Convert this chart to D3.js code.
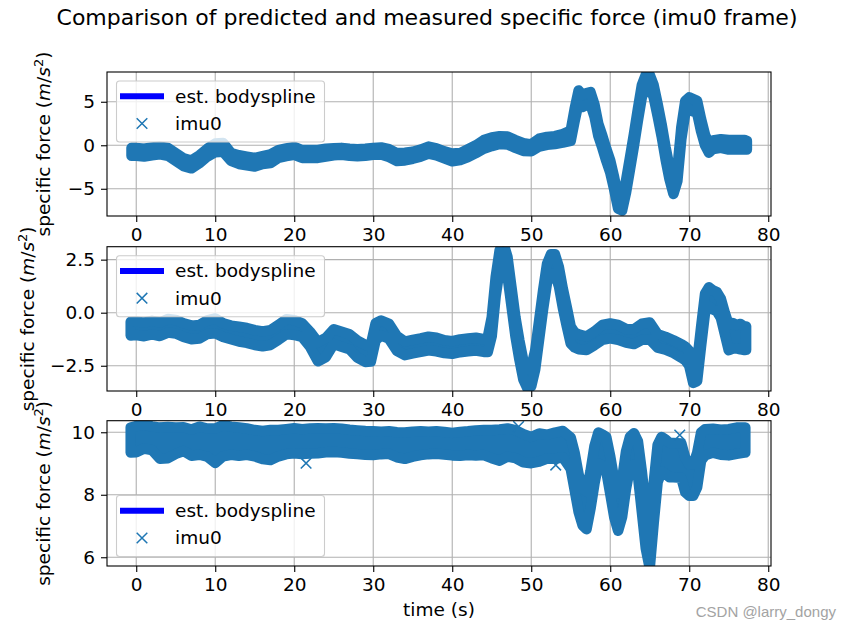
<!DOCTYPE html>
<html><head><meta charset="utf-8">
<script src="https://cdn.jsdelivr.net/npm/d3@7"></script>
<style>body{margin:0;background:#fff} svg text{font-family:"DejaVu Sans",sans-serif}</style>
</head><body><svg id="c" width="853" height="630"></svg>
<script>
// ---- data ----
const timeTicks = [0,10,20,30,40,50,60,70,80];
const ticksX = [-5,0,5];
const ticksY = [-2.5,0,2.5];
const ticksZ = [6,8,10];
const seriesNames = ["est. bodyspline","imu0"];
// rows: [time (s), spline value, half-spread of imu0 samples]
const forceX = [[-0.6,-0.75,.45],[0,-0.75,.45],[1,-0.85,.45],[2,-0.7,.45],[3,-0.6,.45],[4,-0.75,.45],[5,-1.35,.45],[6,-1.95,.45],[7,-2.2,.45],[8,-1.6,.45],[9,-0.85,.45],[10,-0.3,.5],[11,-0.25,.5],[12,-1.35,.45],[13,-1.65,.5],[14,-1.8,.5],[15,-1.95,.5],[16,-1.7,.45],[17,-1.55,.5],[18,-1.0,.45],[19,-0.8,.45],[20,-0.65,.45],[21,-1.0,.45],[22,-1.0,.45],[23,-1.0,.45],[24,-0.85,.45],[25,-0.75,.4],[26,-0.7,.4],[27,-0.8,.4],[28,-0.85,.4],[29,-0.8,.4],[30,-0.7,.4],[31,-0.65,.4],[32,-0.9,.45],[33,-1.35,.45],[34,-1.3,.45],[35,-1.15,.4],[36,-0.9,.4],[37,-0.55,.4],[38,-0.75,.4],[39,-1.1,.4],[40,-1.4,.45],[41,-1.3,.4],[42,-0.9,.45],[43,-0.45,.45],[44,0.1,.5],[45,0.4,.5],[46,0.6,.45],[47,0.55,.45],[48,0.15,.45],[49,-0.2,.45],[50,-0.3,.4],[51,0.3,.45],[52,0.5,.45],[53,0.6,.45],[54,0.8,.5],[55,1.1,.6],[55.5,3.5,.7],[56,5.6,.7],[56.5,5.1,.7],[57,5.3,.7],[57.5,5.4,.7],[58,4.0,.7],[58.5,1.75,.7],[59,0.4,.7],[59.5,-1.1,.7],[60,-2.45,.7],[60.5,-4.4,.7],[61,-6.6,.7],[61.5,-6.8,.7],[62,-4.75,.7],[62.5,-2.1,.7],[63,0.6,.7],[63.5,3.5,.7],[64,6.2,.7],[64.5,7.4,.7],[65,7.4,.7],[65.5,6.2,.7],[66,4.05,.7],[66.5,1.75,.7],[67,-0.9,.7],[67.5,-3.2,.7],[68,-4.9,.7],[68.5,-3.4,.7],[69,1.4,.7],[69.5,4.4,.7],[70,4.8,.7],[70.5,4.6,.7],[71,4.4,.7],[71.5,2.3,.7],[72,0.6,.6],[72.5,-0.35,.5],[73,0.05,.5],[74,0.2,.5],[75,0.05,.55],[76,0.05,.55],[77,0.05,.55],[77.3,0.0,.5]];
const forceY = [[-0.7,-0.75,.32],[0,-0.73,.32],[1,-0.79,.32],[2,-0.7,.32],[3,-0.78,.32],[4,-0.62,.32],[5,-0.66,.32],[6,-0.82,.32],[7,-0.93,.32],[8,-0.9,.32],[9,-0.68,.32],[10,-0.62,.35],[11,-0.82,.32],[12,-0.93,.32],[13,-1.01,.35],[14,-1.07,.35],[15,-1.17,.35],[16,-1.23,.35],[17,-1.17,.35],[18,-0.93,.35],[19,-0.66,.35],[20,-0.7,.35],[21,-0.82,.32],[22,-1.25,.35],[23,-1.84,.45],[24,-1.64,.45],[25,-1.13,.35],[26,-1.25,.35],[27,-1.37,.35],[28,-1.72,.4],[29,-1.92,.4],[29.7,-1.9,.4],[30.3,-0.9,.4],[31,-0.72,.35],[32,-0.88,.35],[33,-1.45,.35],[34,-1.68,.32],[35,-1.6,.32],[36,-1.53,.32],[37,-1.45,.32],[38,-1.5,.32],[39,-1.6,.3],[40,-1.64,.3],[41,-1.56,.3],[42,-1.52,.3],[43,-1.48,.3],[44,-1.55,.3],[44.5,-1.5,.35],[45,-0.66,.45],[45.5,1.23,.45],[46,2.49,.45],[46.5,2.8,.45],[47,2.17,.45],[47.5,0.75,.45],[48,-0.66,.45],[48.5,-1.76,.45],[49,-2.7,.45],[49.5,-3.1,.45],[50,-3.02,.45],[50.5,-2.23,.45],[51,-0.82,.45],[51.5,0.6,.45],[52,1.86,.45],[52.5,2.3,.45],[53,2.3,.45],[53.5,1.7,.45],[54,0.68,.45],[54.5,-0.19,.45],[55,-1.05,.4],[55.5,-1.29,.35],[56,-1.37,.35],[57,-1.44,.32],[58,-1.21,.32],[59,-0.93,.35],[60,-0.86,.35],[61,-0.93,.35],[62,-1.09,.32],[63,-1.13,.35],[64,-0.9,.38],[65,-0.86,.4],[66,-1.33,.32],[67,-1.44,.3],[68,-1.6,.3],[69,-1.8,.32],[69.5,-1.92,.32],[70,-2.15,.35],[70.5,-2.86,.45],[71,-2.78,.45],[71.5,-1.13,.45],[72,0.44,.45],[72.5,0.75,.45],[73,0.6,.45],[73.5,0.52,.45],[74,0.21,.45],[74.5,-0.5,.5],[75,-1.17,.6],[75.5,-1.09,.6],[76,-1.13,.55],[76.5,-1.13,.6],[77,-1.21,.55],[77.2,-1.2,.55]];
const forceZ = [[-0.7,9.75,.4],[0,9.78,.42],[1,9.86,.38],[2,9.81,.38],[3,9.65,.5],[4,9.67,.5],[5,9.73,.42],[6,9.78,.38],[7,9.67,.42],[8,9.73,.45],[9,9.67,.45],[10,9.57,.55],[11,9.73,.5],[12,9.73,.45],[13,9.7,.45],[14,9.7,.42],[15,9.65,.42],[16,9.59,.45],[17,9.59,.48],[18,9.65,.42],[19,9.7,.4],[20,9.73,.4],[21,9.7,.4],[22,9.72,.4],[23,9.73,.4],[24,9.74,.38],[25,9.75,.38],[26,9.73,.38],[27,9.7,.38],[28,9.68,.38],[29,9.66,.38],[30,9.65,.38],[31,9.66,.36],[32,9.67,.36],[33,9.6,.4],[34,9.57,.42],[35,9.62,.4],[36,9.65,.38],[37,9.66,.36],[38,9.67,.36],[39,9.65,.36],[40,9.62,.36],[41,9.63,.38],[42,9.65,.38],[43,9.66,.4],[44,9.67,.4],[45,9.62,.45],[46,9.59,.5],[47,9.67,.45],[48,9.62,.45],[49,9.49,.45],[50,9.43,.42],[51,9.51,.45],[52,9.54,.38],[53,9.57,.42],[54,9.62,.42],[55,9.33,.5],[55.5,8.74,.6],[56,8.05,.6],[56.5,7.62,.6],[57,7.5,.6],[57.5,8.15,.6],[58,8.95,.6],[58.5,9.49,.5],[59,9.43,.5],[59.5,9.3,.55],[60,8.63,.6],[60.5,7.89,.6],[61,7.45,.6],[61.5,7.89,.6],[62,8.79,.6],[62.5,9.36,.5],[63,9.47,.5],[63.5,9.17,.55],[64,8.1,.65],[64.5,6.93,.65],[65,6.3,.65],[65.5,7.73,.65],[66,9.0,.6],[66.5,9.3,.55],[67,9.22,.55],[67.5,9.11,.55],[68,9.11,.55],[69,9.09,.55],[69.5,8.63,.55],[70,8.47,.5],[70.5,8.47,.5],[71,8.79,.55],[71.5,9.54,.45],[72,9.68,.42],[73,9.73,.38],[74,9.68,.4],[75,9.68,.42],[76,9.73,.42],[77,9.75,.4],[77.1,9.75,.4]];
const outliersZ = [[21.5,9.01],[48.4,10.18],[53.1,8.95],[68.8,9.91]];

// ---- layout ----
const svg = d3.select("#c");
const L = 107, R = 771;
const FS = 18.5;
const blue = "#1f77b4";
const x = d3.scaleLinear().domain([-3.7, 80.35]).range([L, R]);

const panels = [
  {data: forceX, out: [], top: 72, bottom: 216, dom: [-8.13, 8.42], ticks: ticksX, fmt: d3.format("d"), legendTop: true, labelX: 50},
  {data: forceY, out: [], top: 246.7, bottom: 391, dom: [-3.69, 3.11], ticks: ticksY, fmt: d3.format(".1f"), legendTop: true, labelX: 34},
  {data: forceZ, out: outliersZ, top: 420.7, bottom: 566, dom: [5.72, 10.37], ticks: ticksZ, fmt: d3.format("d"), legendTop: false, labelX: 50}
];

svg.append("text").attr("x", 427).attr("y", 25).attr("text-anchor", "middle")
  .style("font-size", "22px").text("Comparison of predicted and measured specific force (imu0 frame)");

const xMark = s => `M${-s},${-s}L${s},${s}M${-s},${s}L${s},${-s}`;

panels.forEach((p, i) => {
  const y = d3.scaleLinear().domain(p.dom).range([p.bottom, p.top]);
  const g = svg.append("g");
  const cid = "clip" + i;
  svg.append("clipPath").attr("id", cid).append("rect")
    .attr("x", L).attr("y", p.top).attr("width", R - L).attr("height", p.bottom - p.top);

  // grid
  g.selectAll(".gx").data(timeTicks).join("line")
    .attr("x1", d => x(d)).attr("x2", d => x(d)).attr("y1", p.top).attr("y2", p.bottom)
    .attr("stroke", "#b0b0b0").attr("stroke-width", 1.1);
  g.selectAll(".gy").data(p.ticks).join("line")
    .attr("x1", L).attr("x2", R).attr("y1", d => y(d)).attr("y2", d => y(d))
    .attr("stroke", "#b0b0b0").attr("stroke-width", 1.1);

  const plot = g.append("g").attr("clip-path", `url(#${cid})`);
  // spline (under the measurements)
  plot.append("path").datum(p.data)
    .attr("d", d3.line().x(d => x(d[0])).y(d => y(d[1])))
    .attr("fill", "none").attr("stroke", "#0000ff").attr("stroke-width", 2);
  // imu0 sample cloud
  plot.append("path").datum(p.data)
    .attr("d", d3.area().x(d => x(d[0])).y0(d => y(d[1] - d[2])).y1(d => y(d[1] + d[2])))
    .attr("fill", blue).attr("stroke", blue).attr("stroke-width", 10.5).attr("stroke-linejoin", "round");
  plot.selectAll(".o").data(p.out).join("path")
    .attr("transform", d => `translate(${x(d[0])},${y(d[1])})`)
    .attr("d", xMark(5.3)).attr("stroke", blue).attr("stroke-width", 1.5).attr("fill", "none");

  // spines
  g.append("rect").attr("x", L).attr("y", p.top).attr("width", R - L).attr("height", p.bottom - p.top)
    .attr("fill", "none").attr("stroke", "#000").attr("stroke-width", 1.1);

  // axes
  const ax = g.append("g").attr("transform", `translate(0,${p.bottom})`)
    .call(d3.axisBottom(x).tickValues(timeTicks).tickFormat(d3.format("d")).tickSize(6).tickPadding(6));
  const ay = g.append("g").attr("transform", `translate(${L},0)`)
    .call(d3.axisLeft(y).tickValues(p.ticks).tickFormat(p.fmt).tickSize(6).tickPadding(6));
  [ax, ay].forEach(a => {
    a.select(".domain").remove();
    a.selectAll("line").attr("stroke", "#000").attr("stroke-width", 1.1);
    a.selectAll("text").style("font-size", FS + "px").style("font-family", "DejaVu Sans").attr("fill", "#000");
  });

  // y label
  const cy = (p.top + p.bottom) / 2;
  const t = svg.append("text").attr("transform", `translate(${p.labelX},${cy}) rotate(-90)`)
    .attr("text-anchor", "middle").style("font-size", FS + "px");
  t.append("tspan").text("specific force (");
  t.append("tspan").style("font-style", "italic").text("m");
  t.append("tspan").text("/");
  t.append("tspan").style("font-style", "italic").text("s");
  t.append("tspan").attr("dy", -7).style("font-size", "13px").text("2");
  t.append("tspan").attr("dy", 7).text(")");

  // legend
  const lw = 208, lh = 61;
  const lx = L + 9;
  const ly = p.legendTop ? p.top + 8.5 : p.bottom - 10 - lh;
  const lg = svg.append("g").attr("transform", `translate(${lx},${ly})`);
  lg.append("rect").attr("x", 0.5).attr("y", 0.5).attr("width", lw).attr("height", lh)
    .attr("rx", 3).attr("fill", "#fff").attr("fill-opacity", 0.8).attr("stroke", "#cccccc").attr("stroke-width", 1.1);
  lg.append("line").attr("x1", 4).attr("x2", 48).attr("y1", 15.7).attr("y2", 15.7)
    .attr("stroke", "#0000ff").attr("stroke-width", 6);
  lg.append("path").attr("transform", "translate(26,43)").attr("d", xMark(5.3))
    .attr("stroke", blue).attr("stroke-width", 1.5).attr("fill", "none");
  lg.selectAll(".lt").data(seriesNames).join("text")
    .attr("x", 59).attr("y", (d, k) => k === 0 ? 15.7 : 43).attr("dy", "0.35em")
    .style("font-size", FS + "px").text(d => d);
});

svg.append("text").attr("x", 439).attr("y", 616).attr("text-anchor", "middle")
  .style("font-size", FS + "px").text("time (s)");

svg.append("text").attr("x", 836).attr("y", 617).attr("text-anchor", "end")
  .style("font-family", "Liberation Sans, Arial, sans-serif").style("font-size", "15px")
  .attr("fill", "#a3a3a3").text("CSDN @larry_dongy");
</script>
</body></html>
